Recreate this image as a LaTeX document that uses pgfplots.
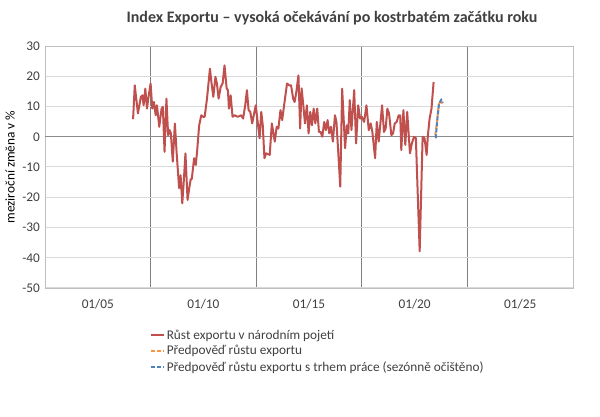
\documentclass[border=0pt]{standalone}
\usepackage{fontspec}
\setmainfont{Carlito}
\usepackage{pgfplots}
\pgfplotsset{compat=1.18}

\definecolor{exred}{HTML}{C0504D}
\definecolor{exorange}{HTML}{F79646}
\definecolor{exblue}{HTML}{4F81BD}
\definecolor{txt}{HTML}{404040}

\begin{document}
\begin{tikzpicture}
\path (0pt,0pt) rectangle (600pt,417pt);
\node[font=\bfseries\fontsize{16}{19}\selectfont, text=txt] at (332pt,399pt)
  {Index Exportu – vysoká očekávání po kostrbatém začátku roku};
\node[rotate=90, font=\fontsize{13.3}{16}\selectfont, text=black] at (10pt,250pt)
  {meziroční změna v \%};
\begin{axis}[
    at={(45pt,129pt)}, anchor=south west,
    scale only axis, width=528pt, height=242pt,
    xmin=2002.5, xmax=2027.5,
    ymin=-50, ymax=30,
    ytick={-50,-40,...,30},
    yticklabels={-50,-40,-30,-20,-10,0\hspace{6pt},10\hspace{6pt},20\hspace{6pt},30\hspace{6pt}},
    xtick={2007.5,2012.5,2017.5,2022.5},
    xticklabels={},
    extra x ticks={2005,2010,2015,2020,2025},
    extra x tick labels={01/05,01/10,01/15,01/20,01/25},
    extra x tick style={grid=none, major tick length=0pt},
    xmajorgrids, ymajorgrids,
    x grid style={color=black!50, line width=1pt},
    y grid style={color=black!15, line width=1pt},
    axis line style={color=black!25},
    tick style={draw=none},
    ticklabel style={font=\fontsize{13.3}{16}\selectfont, text=txt},
    yticklabel style={xshift=-1.6pt},
    xticklabel style={yshift=-8pt},
    /pgf/number format/assume math mode=true,
    legend cell align=left,
    legend style={at={(0.199,-0.165)}, anchor=north west, draw=none, fill=none,
      inner sep=0pt, font=\fontsize{13.3}{16}\selectfont, text=txt, row sep=2pt,
      nodes={inner xsep=1.5pt, inner ysep=1.5pt}},
    legend image code/.code={\draw[#1] (0pt,0pt) -- (13pt,0pt);},
]
\draw[black!45, line width=1pt] (axis cs:2002.5,0) -- (axis cs:2027.5,0);
\addplot[exred, line width=2pt, line join=round] coordinates {
(2006.67,5.8) (2006.75,17.0) (2006.90,7.7) (2007.04,13.2) (2007.11,13.7)
(2007.17,10.4) (2007.25,15.9) (2007.33,9.3) (2007.39,12.6) (2007.50,17.6)
(2007.58,9.3) (2007.66,11.5) (2007.74,7.1) (2007.80,10.4) (2007.91,3.3)
(2008.02,9.3) (2008.08,9.9) (2008.16,-5.0) (2008.25,12.6) (2008.33,0.5)
(2008.40,2.2) (2008.46,1.1) (2008.55,-8.2) (2008.65,4.4) (2008.73,-5.0)
(2008.80,-12.0) (2008.85,-17.0) (2008.92,-12.7) (2009.00,-22.0) (2009.07,-14.8)
(2009.15,-5.5) (2009.25,-20.9) (2009.34,-16.5) (2009.40,-14.0) (2009.45,-14.0)
(2009.56,-7.1) (2009.64,-9.3) (2009.70,-5.0) (2009.80,3.8) (2009.90,7.1)
(2009.98,6.6) (2010.06,6.6) (2010.17,12.6) (2010.31,22.5) (2010.38,18.0)
(2010.47,13.2) (2010.57,19.8) (2010.64,17.6) (2010.72,12.6) (2010.82,16.5)
(2010.91,17.6) (2011.00,23.6) (2011.10,16.0) (2011.16,15.4) (2011.21,9.3)
(2011.29,13.7) (2011.38,6.6) (2011.48,7.1) (2011.63,6.6) (2011.79,7.1)
(2011.88,6.0) (2011.98,10.4) (2012.06,15.4) (2012.14,8.8) (2012.22,8.2)
(2012.31,4.4) (2012.48,10.4) (2012.66,-0.5) (2012.74,8.2) (2012.81,3.8)
(2012.89,-7.1) (2012.97,-5.5) (2013.14,-6.0) (2013.24,4.4) (2013.38,-1.6)
(2013.47,3.3) (2013.55,2.7) (2013.65,8.8) (2013.73,5.5) (2013.80,9.3)
(2013.96,17.6) (2014.06,17.0) (2014.15,17.0) (2014.25,12.6) (2014.32,11.5)
(2014.40,14.8) (2014.50,20.3) (2014.58,2.7) (2014.65,16.0) (2014.73,10.4)
(2014.81,4.4) (2014.90,10.4) (2014.98,1.1) (2015.06,8.2) (2015.14,3.8)
(2015.22,9.3) (2015.30,4.4) (2015.39,9.3) (2015.47,1.6) (2015.55,1.6)
(2015.63,0.0) (2015.72,4.9) (2015.80,2.2) (2015.88,5.5) (2015.96,1.1)
(2016.04,3.3) (2016.13,-1.6) (2016.23,7.1) (2016.30,4.9) (2016.48,-16.5)
(2016.57,15.9) (2016.71,-3.8) (2016.79,3.8) (2016.86,1.1) (2016.93,12.1)
(2017.01,2.2) (2017.14,15.4) (2017.23,-2.2) (2017.33,10.4) (2017.42,6.0)
(2017.50,6.6) (2017.61,4.9) (2017.72,10.4) (2017.83,2.2) (2017.92,4.4)
(2018.00,1.6) (2018.13,-7.1) (2018.21,4.9) (2018.30,-1.6) (2018.46,10.4)
(2018.55,1.6) (2018.63,2.7) (2018.71,9.3) (2018.79,7.7) (2018.90,0.5)
(2018.98,1.1) (2019.06,4.4) (2019.15,4.9) (2019.25,7.1) (2019.32,7.1)
(2019.37,-4.4) (2019.47,8.8) (2019.56,-2.7) (2019.65,8.2) (2019.78,-5.5)
(2019.87,-2.2) (2019.97,0.0) (2020.06,-0.5) (2020.24,-37.9) (2020.38,0.0)
(2020.47,-0.5) (2020.57,-6.0) (2020.63,0.5) (2020.71,6.0) (2020.80,9.3)
(2020.90,18.1)
};
\addlegendentry{Růst exportu v národním pojetí}
\addplot[exorange, line width=2pt, dash pattern=on 4pt off 2pt] coordinates {
(2020.98,0.5) (2021.06,5.0) (2021.14,10.5) (2021.24,12.0) (2021.32,11.0)
};
\addlegendentry{Předpověď růstu exportu}
\addplot[exblue, line width=2pt, dash pattern=on 4pt off 2pt] coordinates {
(2021.00,-0.5) (2021.08,6.0) (2021.16,11.0) (2021.26,12.2) (2021.34,11.2)
};
\addlegendentry{Předpověď růstu exportu s trhem práce (sezónně očištěno)}
\end{axis}
\end{tikzpicture}
\end{document}
